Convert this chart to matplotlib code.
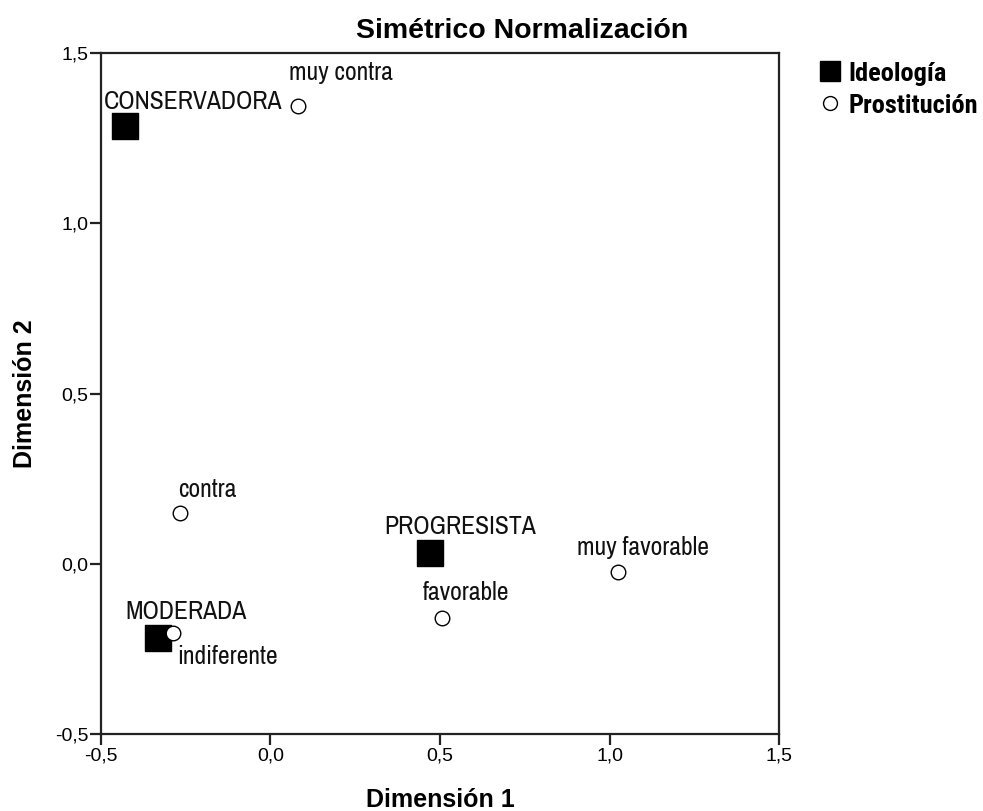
import matplotlib
matplotlib.use("Agg")
import matplotlib.pyplot as plt
from matplotlib.lines import Line2D

NARROW = ['Archivo Narrow', 'DejaVu Sans']
NARROW_BOLD = ['Roboto Condensed', 'Archivo Narrow', 'DejaVu Sans']
WIDE = ['Liberation Sans', 'DejaVu Sans']
plt.rcParams['font.family'] = NARROW

ideologia_labels = ["CONSERVADORA", "PROGRESISTA", "MODERADA"]
ideologia_x = [-0.43, 0.472, -0.332]
ideologia_y = [1.286, 0.032, -0.218]

prost_labels = ["muy contra", "contra", "muy favorable", "favorable", "indiferente"]
prost_x = [0.080, -0.267, 1.026, 0.507, -0.288]
prost_y = [1.344, 0.149, -0.024, -0.159, -0.203]

xticks = [-0.5, 0.0, 0.5, 1.0, 1.5]
yticks = [-0.5, 0.0, 0.5, 1.0, 1.5]
xtick_labels = ["-0,5", "0,0", "0,5", "1,0", "1,5"]
ytick_labels = ["-0,5", "0,0", "0,5", "1,0", "1,5"]

# label offsets (pixels): dx, dy
ideo_off = [(68, 24), (30, 26), (28, 27)]
prost_off = [(43, 34), (27, 24), (25, 24), (24, 25), (55, -24)]

fig = plt.figure(figsize=(9.83, 8.11), dpi=100)
ax = fig.add_axes([0.1027, 0.0949, 0.6898, 0.8397])

ax.scatter(prost_x, prost_y, marker='o', s=110, facecolor='white',
           edgecolor='black', linewidths=1.0, zorder=3)
ax.scatter(ideologia_x, ideologia_y, marker='s', s=330, facecolor='black',
           edgecolor='black', zorder=2)

fs = 18.5
for lab, x, y, (dx, dy) in zip(ideologia_labels, ideologia_x, ideologia_y, ideo_off):
    ax.annotate(lab, (x, y), xytext=(dx, dy), textcoords='offset pixels',
                ha='center', va='center', fontsize=fs, color='#111111')
for lab, x, y, (dx, dy) in zip(prost_labels, prost_x, prost_y, prost_off):
    ax.annotate(lab, (x, y), xytext=(dx, dy), textcoords='offset pixels',
                ha='center', va='center', fontsize=fs, color='#111111')

ax.set_xlim(-0.5, 1.5)
ax.set_ylim(-0.5, 1.5)
ax.set_xticks(xticks)
ax.set_xticklabels(xtick_labels, family=WIDE)
ax.set_yticks(yticks)
ax.set_yticklabels(ytick_labels, family=WIDE)
ax.tick_params(direction='out', length=8, width=1.6, labelsize=14, color='#222222')
ax.tick_params(axis='x', pad=2)
ax.tick_params(axis='y', pad=1)
for sp in ax.spines.values():
    sp.set_linewidth(1.6)
    sp.set_color('#222222')

fig.text(522 / 983, 1 - 31 / 811, "Simétrico Normalización", fontsize=20.5,
         fontweight='bold', ha='center', va='center', family=WIDE)
fig.text(440 / 983, 1 - 800 / 811, "Dimensión 1", fontsize=18, fontweight='bold',
         ha='center', va='center', family=WIDE)
fig.text(25 / 983, 1 - 394 / 811, "Dimensión 2", fontsize=18, fontweight='bold',
         ha='center', va='center', rotation=90, family=WIDE)

handles = [
    Line2D([], [], marker='s', linestyle='none', markersize=15,
           markerfacecolor='black', markeredgecolor='black', label='Ideología'),
    Line2D([], [], marker='o', linestyle='none', markersize=10,
           markerfacecolor='white', markeredgecolor='black', label='Prostitución'),
]
fig.legend(handles=handles, loc='upper left', bbox_to_anchor=(0.82, 0.937),
           frameon=False, handletextpad=0.2, labelspacing=0.3, borderaxespad=0,
           handlelength=1.0, prop={'size': 19, 'weight': 'bold', 'family': NARROW_BOLD})

fig.savefig("out.png", dpi=100)
